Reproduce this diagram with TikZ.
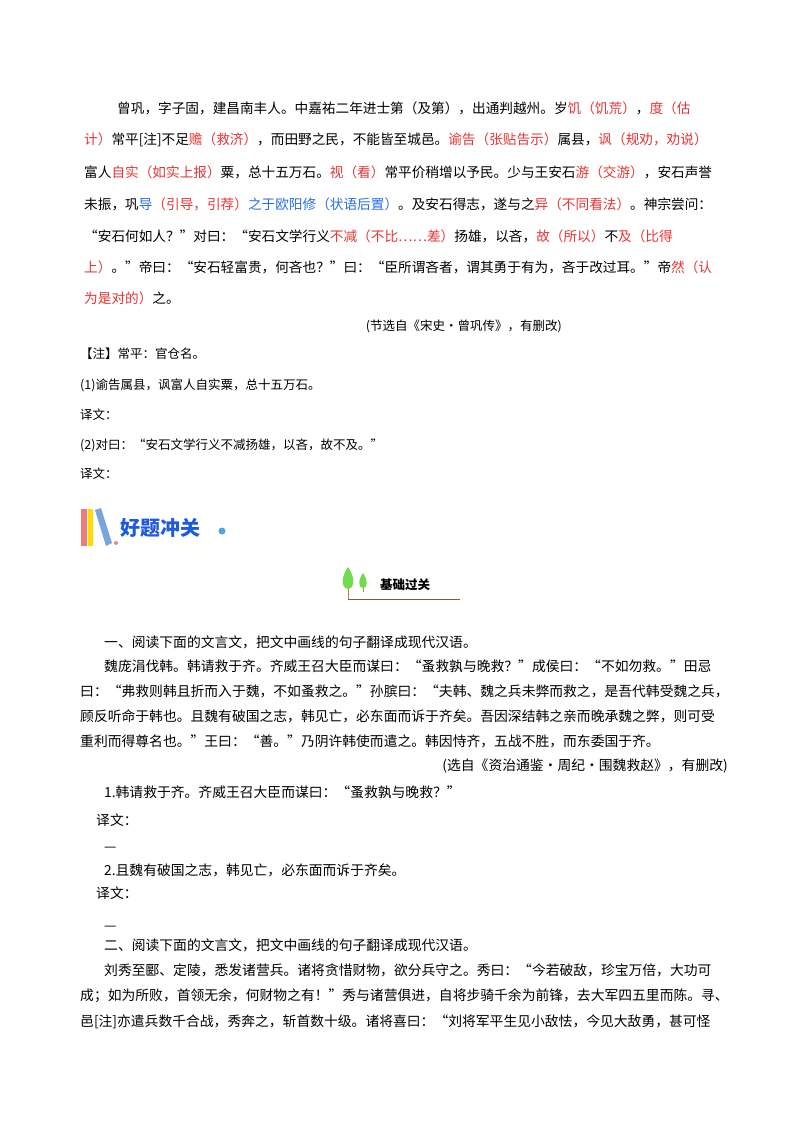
\documentclass[tikz,border=0pt]{standalone}
\usepackage{fontspec}
\setmainfont{Noto Sans CJK SC}
\definecolor{rd}{RGB}{232,52,52}
\definecolor{bl}{RGB}{40,110,235}
\definecolor{hb}{RGB}{30,90,220}
\newcommand{\R}[1]{\textcolor{rd}{#1}}
\newcommand{\B}[1]{\textcolor{bl}{#1}}
\begin{document}
\begin{tikzpicture}[x=1pt,y=-1pt,
  ln/.style={anchor=west,inner sep=0pt,font=\fontsize{13.65}{14}\selectfont},
  sm/.style={anchor=west,inner sep=0pt,font=\fontsize{12.5}{13}\selectfont},
  sx/.style={anchor=west,inner sep=0pt,font=\fontsize{13.8}{14}\selectfont}]
\useasboundingbox (0,0) rectangle (800,1132);
\fill[white] (0,0) rectangle (800,1132);
\node[ln] (a1) at (117,108) {曾巩，字子固，建昌南丰人。中嘉祐二年进士第（及第），出通判越州。岁\R{饥（饥荒）}，\R{度（估}};
\node[ln] (a2) at (84,140) {\R{计）}常平[注]不足\R{赡（救济）}，而田野之民，不能皆至城邑。\R{谕告（张贴告示）}属县，\R{讽（规劝，劝说）}};
\node[ln] (a3) at (84,172) {富人\R{自实（如实上报）}粟，总十五万石。\R{视（看）}常平价稍增以予民。少与王安石\R{游（交游）}，安石声誉};
\node[ln] (a4) at (84,204) {未振，巩\B{导}\R{（引导，引荐）}\B{之于欧阳修（状语后置）}。及安石得志，遂与之\R{异（不同看法）}。神宗尝问：};
\node[ln] (a5) at (84,236) {“安石何如人？”对曰：“安石文学行义\R{不减（不比……差）}扬雄，以吝，\R{故（所以）}不\R{及（比得}};
\node[ln] (a6) at (84,267) {\R{上）}。”帝曰：“安石轻富贵，何吝也？”曰：“臣所谓吝者，谓其勇于有为，吝于改过耳。”帝\R{然（认}};
\node[ln] (a7) at (84,298) {\R{为是对的）}之。};
\node[sm,anchor=east] (src1) at (562,326) {(节选自《宋史·曾巩传》，有删改)};
\node[sm] (n1) at (80,354) {【注】常平：官仓名。};
\node[sm] (q1) at (80,385) {(1)谕告属县，讽富人自实粟，总十五万石。};
\node[sm] (y1) at (80,415) {译文：};
\node[sm] (q2) at (80,445) {(2)对曰：“安石文学行义不减扬雄，以吝，故不及。”};
\node[sm] (y2) at (80,474) {译文：};
% banner
\fill[rd!65!white] (81,509) rectangle (87,546);
\fill[yellow!80!orange] (88,509) rectangle (93,546);
\fill[cyan!55!blue!55] (95,510) -- (101,508) -- (112,543) -- (106,546) -- cycle;
\fill[rd!60!white] (116,543) circle (2);
\node[anchor=west,inner sep=0pt,font=\fontsize{20}{21}\bfseries\selectfont,text=hb] (bn) at (120,528) {好题冲关};
\fill[cyan!70!blue!70] (222,531) circle (3.5);
% tree
\draw[brown!70!black] (348,599) -- (460,599);
\draw[brown] (348,599) -- (348,585);
\fill[green!60!olive!70] (348,567) .. controls (342,575) and (340,588) .. (348,589) .. controls (356,588) and (354,575) .. (348,567);
\draw[brown] (363,592) -- (363,585);
\fill[green!60!olive!70] (363,573) .. controls (358,580) and (358,588) .. (363,588) .. controls (368,588) and (368,580) .. (363,573);
\node[anchor=west,inner sep=0pt,font=\fontsize{12.5}{13}\bfseries\selectfont] (jc) at (380,585) {基础过关};
% section
\node[sx] (s1) at (104,642) {一、阅读下面的文言文，把文中画线的句子翻译成现代汉语。};
\node[sx] (s2) at (104,666) {魏庞涓伐韩。韩请救于齐。齐威王召大臣而谋曰：“蚤救孰与晚救？”成侯曰：“不如勿救。”田忌};
\node[sx] (s3) at (80,691) {曰：“弗救则韩且折而入于魏，不如蚤救之。”孙膑曰：“夫韩、魏之兵未弊而救之，是吾代韩受魏之兵，};
\node[sx] (s4) at (80,716) {顾反听命于韩也。且魏有破国之志，韩见亡，必东面而诉于齐矣。吾因深结韩之亲而晚承魏之弊，则可受};
\node[sx] (s5) at (80,741) {重利而得尊名也。”王曰：“善。”乃阴许韩使而遣之。韩因恃齐，五战不胜，而东委国于齐。};
\node[sx,anchor=east] (src2) at (728,766) {(选自《资治通鉴•周纪•围魏救赵》，有删改)};
\node[sx] (t1) at (104,792) {1.韩请救于齐。齐威王召大臣而谋曰：“蚤救孰与晚救？”};
\node[sx] (y3) at (96,820) {译文：};
\node[sx] (d1) at (104,849) {—};
\node[sx] (t2) at (104,870) {2.且魏有破国之志，韩见亡，必东面而诉于齐矣。};
\node[sx] (y4) at (96,893) {译文：};
\node[sx] (d2) at (104,928) {—};
\node[sx] (u1) at (104,945) {二、阅读下面的文言文，把文中画线的句子翻译成现代汉语。};
\node[sx] (u2) at (104,970) {刘秀至郾、定陵，悉发诸营兵。诸将贪惜财物，欲分兵守之。秀曰：“今若破敌，珍宝万倍，大功可};
\node[sx] (u3) at (80,996) {成；如为所败，首领无余，何财物之有！”秀与诸营俱进，自将步骑千余为前锋，去大军四五里而陈。寻、};
\node[sx] (u4) at (80,1022) {邑[注]亦遣兵数千合战，秀奔之，斩首数十级。诸将喜曰：“刘将军平生见小敌怯，今见大敌勇，甚可怪};
\end{tikzpicture}
\end{document}
